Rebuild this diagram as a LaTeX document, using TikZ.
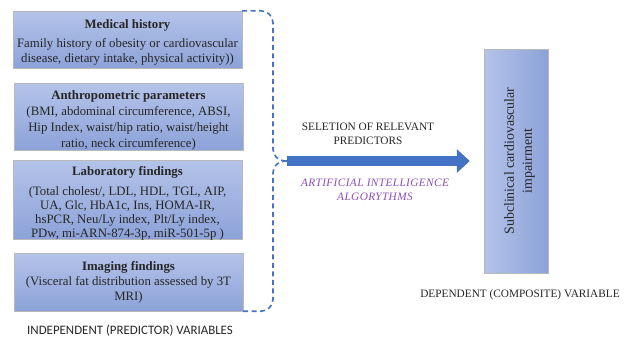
\documentclass[tikz,border=0pt]{standalone}
\usepackage{fontspec}
\setmainfont{Liberation Serif}
\newfontfamily\labelfont{Carlito}
\usetikzlibrary{arrows.meta, calc}
\definecolor{myblue}{RGB}{68,114,196}
\definecolor{boxtop}{RGB}{180,195,233}
\definecolor{boxbottom}{RGB}{140,162,216}
\definecolor{mypurple}{RGB}{140,76,186}
\colorlet{mytext}{black!85}

\begin{document}
\begin{tikzpicture}[
        x=1pt, y=1pt,
        box/.style={
            draw=gray!55,
            rectangle,
            minimum width=229pt,
            inner sep=0pt,
        },
        marked/.style={
            top color=boxtop,
            bottom color=boxbottom,
        },
        boxtext/.style={
            align=center,
            inner sep=0pt,
            text=mytext,
            font=\fontsize{12.8}{14.5}\selectfont,
        },
        brace/.style={
            draw=myblue,
            line width=1.6pt,
            dash pattern=on 5pt off 3.5pt,
            rounded corners=12pt,
        },
        caption/.style={
            align=center,
            text=mytext,
            font=\fontsize{11.3}{14}\selectfont,
        },
    ]
    \useasboundingbox (0,0) rectangle (630,-338);

    \node[box, marked, minimum height=57pt] (l0) at (127.5,-39.5) {};
    \node[box, marked, minimum height=67pt] (l1) at (128.5,-116.5) {};
    \node[box, marked, minimum height=79pt] (l2) at (127.5,-199.5) {};
    \node[box, marked, minimum height=58pt] (l3) at (128.5,-282) {};

    \node[boxtext] (t0) at ($(l0.center)+(0,-2.5)$)
        {\textbf{Medical history}\\[5pt]
         Family history of obesity or cardiovascular\\
         disease, dietary intake, physical activity))};
    \node[boxtext, font=\fontsize{12.8}{15.8}\selectfont] (t1) at ($(l1.center)+(0,-4)$)
        {\textbf{Anthropometric parameters}\\
         (BMI, abdominal circumference, ABSI,\\
         Hip Index, waist/hip ratio, waist/height\\
         ratio, neck circumference)};
    \node[boxtext, font=\fontsize{12.8}{14}\selectfont] (t2) at ($(l2.center)+(0,-4)$)
        {\textbf{Laboratory findings}\\[6pt]
         (Total cholest/, LDL, HDL, TGL, AIP,\\
         UA, Glc, HbA1c, Ins, HOMA-IR,\\
         hsPCR, Neu/Ly index, Plt/Ly index,\\
         PDw, mi-ARN-874-3p, miR-501-5p )};
    \node[boxtext, font=\fontsize{12.8}{15}\selectfont] (t3) at (l3.center)
        {\textbf{Imaging findings}\\
         (Visceral fat distribution assessed by 3T\\
         MRI)};

    \node[draw=gray!55, left color=boxtop, right color=boxbottom,
          minimum width=64pt, minimum height=224pt] (b0) at (516,-161) {};
    \node[rotate=90, align=center, text=mytext,
          font=\fontsize{13.9}{18}\selectfont] (b0txt) at ($(b0.center)+(3.5,0)$)
        {Subclinical cardiovascular\\impairment};

    \coordinate (tail) at (287,-161);
    \draw[myblue, line width=10pt, -{Triangle[length=13pt, width=23pt]}]
        (tail) -- ($(b0.west)+(-14,0)$);

    \draw[brace] (l0.north east) -| ($(tail)+(-14,0)$) -- (tail);
    \draw[brace] (tail) -- ($(tail)+(-14,0)$) |- (l3.south east);

    \node[caption] (sel) at (368,-134) {SELETION OF RELEVANT\\PREDICTORS};
    \node[caption, text=mypurple,
          font=\itshape\fontsize{11.3}{14}\selectfont\addfontfeatures{LetterSpace=3.5}]
        (ai) at (375,-189.5) {ARTIFICIAL INTELLIGENCE\\ALGORYTHMS};
    \node[caption, font=\labelfont\fontsize{12.9}{14}\selectfont]
        (indep) at (130,-331) {INDEPENDENT (PREDICTOR) VARIABLES};
    \node[caption] (dep) at (520,-295) {DEPENDENT (COMPOSITE) VARIABLE};
\end{tikzpicture}
\end{document}
